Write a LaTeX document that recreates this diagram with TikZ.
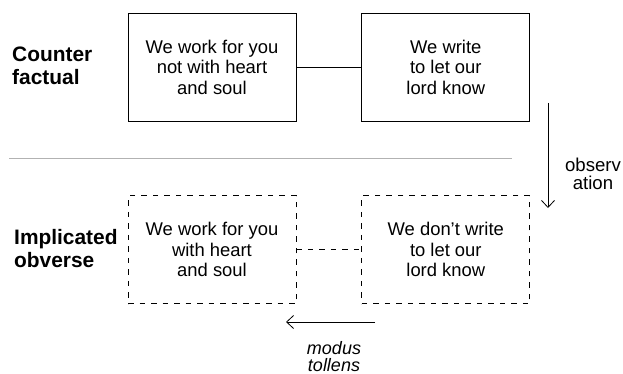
\documentclass[tikz,border=0pt]{standalone}
\usepackage{fontspec}
\setmainfont{Liberation Sans}
\usetikzlibrary{positioning,arrows.meta}

\begin{document}
\begin{tikzpicture}[x=1pt, y=-1pt,
    claim/.style={draw, line width=0.8pt, minimum width=168pt, minimum height=108pt,
        align=center, inner sep=0pt, font=\fontsize{18.4}{20.5}\selectfont},
    obverse/.style={claim, dash pattern=on 5.5pt off 6pt},
    rowlabel/.style={anchor=west, align=left, inner sep=0pt,
        font=\fontsize{20.9}{23}\selectfont\bfseries},
    steplabel/.style={align=center, inner sep=0pt, font=\fontsize{18.6}{18}\selectfont},
    infer/.style={draw, line width=0.8pt, -{Straight Barb[length=7pt,width=13pt]}}]

    \useasboundingbox (0,0) rectangle (623,374);

    \coordinate (divl) at (9,158);
    \coordinate (divr) at (512,158);
    \coordinate (obstop) at (548,103);
    \coordinate (obsbot) at (548,208);
    \coordinate (mtstart) at (375,322);
    \coordinate (mtend) at (286,322);

    % counterfactual row
    \node[rowlabel] (cflabel) at (12,66) {Counter\\factual};
    \node[claim] (cfwork) at (212,67) {We work for you\\not with heart\\and soul};
    \node[claim, right=65pt of cfwork] (cfwrite) {We write\\to let our\\lord know};
    \path[draw, line width=0.8pt] (cfwork) -- (cfwrite);

    \path[draw, black!30, line width=0.8pt] (divl) -- (divr);

    % implicated obverse row
    \node[rowlabel] (iolabel) at (14,248.5) {Implicated\\obverse};
    \node[obverse, below=74pt of cfwork] (iowork) {We work for you\\with heart\\and soul};
    \node[obverse, right=65pt of iowork] (iowrite) {We don’t write\\to let our\\lord know};
    \path[draw, line width=0.8pt, dash pattern=on 5.5pt off 6pt] (iowork) -- (iowrite);

    \path[infer] (obstop) -- (obsbot);
    \node[steplabel] (obs) at (593,173.5) {observ\\ation};

    \path[infer] (mtstart) -- (mtend);
    \node[steplabel, font=\fontsize{18}{17.5}\selectfont\itshape] (mt) at (334,356.5) {modus\\tollens};

\end{tikzpicture}
\end{document}
